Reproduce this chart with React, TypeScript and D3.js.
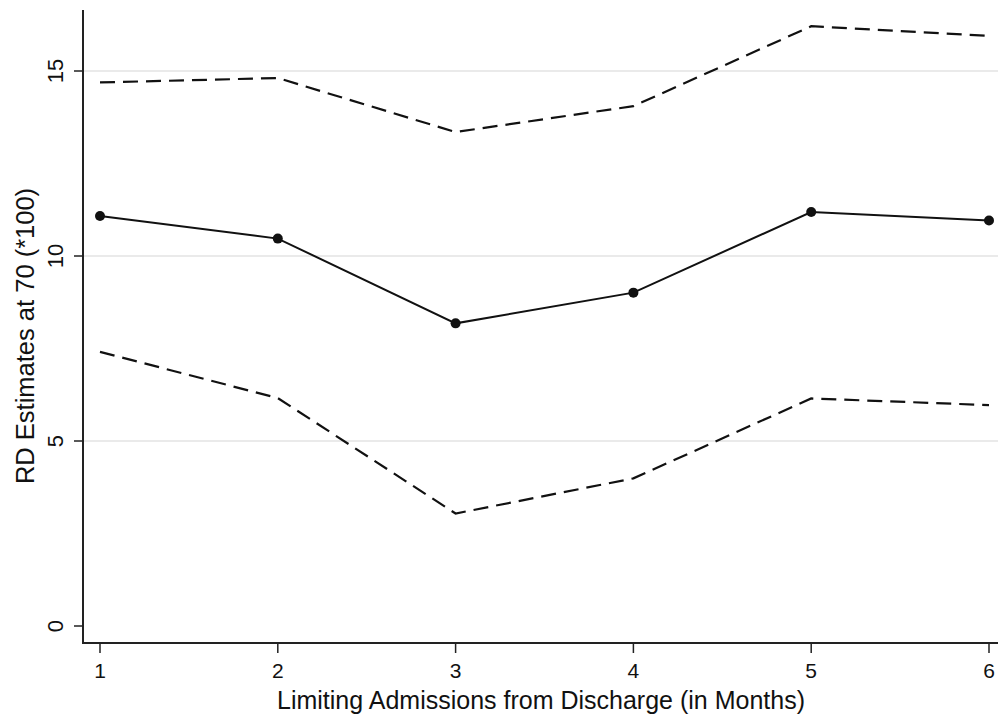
import React from "react";
import * as d3 from "d3";

const months = [1, 2, 3, 4, 5, 6];
const estimates = [11.08, 10.47, 8.18, 9.01, 11.19, 10.96];
const upperCI = [14.69, 14.81, 13.35, 14.05, 16.21, 15.95];
const lowerCI = [7.41, 6.16, 3.04, 3.99, 6.15, 5.97];
const yTicks = [0, 5, 10, 15];
const gridTicks = [5, 10, 15];

const W = 998;
const H = 720;
const left = 83;
const right = 998;
const top = 10;
const bottom = 643;
const font = "'Liberation Sans', Arial, Helvetica, sans-serif";

export default function App() {
  const x = d3.scaleLinear().domain([1, 6]).range([100, 989]);
  const y = d3.scaleLinear().domain([0, 15]).range([626, 71]);

  const line = d3
    .line<number>()
    .x((_, i) => x(months[i]))
    .y((d) => y(d));

  return (
    <svg
      width={W}
      height={H}
      style={{ position: "absolute", left: 0, top: 0, background: "#fff" }}
    >
      {gridTicks.map((t) => (
        <line
          key={"g" + t}
          x1={left}
          x2={right}
          y1={y(t)}
          y2={y(t)}
          stroke="#eaeaea"
          strokeWidth={2}
        />
      ))}

      {/* axes */}
      <line x1={left} x2={left} y1={top} y2={bottom + 1} stroke="#222" strokeWidth={2} />
      <line x1={left} x2={right} y1={bottom} y2={bottom} stroke="#222" strokeWidth={2} />

      {yTicks.map((t) => (
        <g key={"y" + t}>
          <line x1={left - 9} x2={left} y1={y(t)} y2={y(t)} stroke="#222" strokeWidth={1.5} />
          <text
            transform={`translate(${63},${y(t)}) rotate(-90)`}
            textAnchor="middle"
            fontFamily={font}
            fontSize={22}
            fill="#111"
          >
            {t}
          </text>
        </g>
      ))}

      {months.map((m) => (
        <g key={"x" + m}>
          <line x1={x(m)} x2={x(m)} y1={bottom} y2={bottom + 10} stroke="#222" strokeWidth={1.5} />
          <text
            x={x(m)}
            y={678}
            textAnchor="middle"
            fontFamily={font}
            fontSize={21}
            fill="#111"
          >
            {m}
          </text>
        </g>
      ))}

      <text
        transform={`translate(${34},${336}) rotate(-90)`}
        textAnchor="middle"
        fontFamily={font}
        fontSize={25.5}
        fill="#111"
      >
        RD Estimates at 70 (*100)
      </text>
      <text
        x={541}
        y={709}
        textAnchor="middle"
        fontFamily={font}
        fontSize={25}
        fill="#111"
      >
        Limiting Admissions from Discharge (in Months)
      </text>

      <path d={line(upperCI) ?? ""} fill="none" stroke="#111" strokeWidth={2.2} strokeDasharray="15 8" />
      <path d={line(lowerCI) ?? ""} fill="none" stroke="#111" strokeWidth={2.2} strokeDasharray="15 8" />
      <path d={line(estimates) ?? ""} fill="none" stroke="#111" strokeWidth={2} />
      {estimates.map((v, i) => (
        <circle key={"p" + i} cx={x(months[i])} cy={y(v)} r={5} fill="#111" />
      ))}
    </svg>
  );
}
